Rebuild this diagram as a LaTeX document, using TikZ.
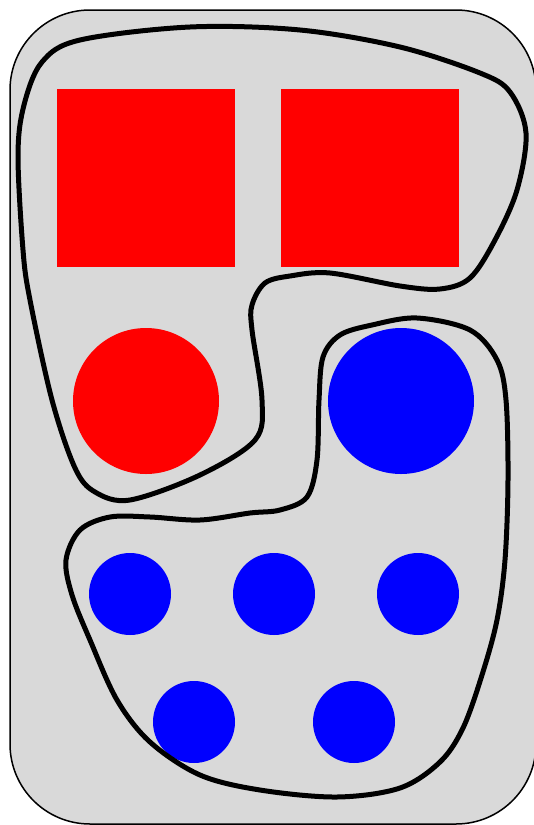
\documentclass[tikz,border=0pt]{standalone}
\begin{document}
\begin{tikzpicture}[x=1pt,y=-1pt]
  \tikzstyle{panel}=[draw=black, line width=1.5pt, fill=gray!30, rounded corners=80pt]
  \tikzstyle{redsq}=[fill=red, inner sep=0pt, minimum size=178pt]
  \tikzstyle{bigdot}=[circle, inner sep=0pt, minimum size=146pt]
  \tikzstyle{smalldot}=[circle, fill=blue, inner sep=0pt, minimum size=82pt]
  \tikzstyle{blob}=[draw=black, line width=5pt]

  \useasboundingbox (0,0) rectangle (534,825);
  \draw[panel] (10,10) rectangle (536,824);

  \node[redsq] (sq1) at (146,178) {};
  \node[redsq] (sq2) at (370,178) {};
  \node[bigdot, fill=red] (rc) at (146,401) {};
  \node[bigdot, fill=blue] (bc) at (401,401) {};

  \node[smalldot] (b1) at (130,594) {};
  \node[smalldot] (b2) at (274,594) {};
  \node[smalldot] (b3) at (418,594) {};
  \node[smalldot] (b4) at (194,722) {};
  \node[smalldot] (b5) at (354,722) {};

  % red group
  \draw[blob] plot[smooth cycle, tension=0.55] coordinates {
    (30,300) (23,250) (18,155) (24,105) (42,62) (80,40) (190,27) (300,30)
    (400,47) (480,73) (510,92) (526,133) (517,190) (495,240) (470,278)
    (440,289) (400,286) (330,273) (290,276) (265,283) (252,305) (252,330)
    (262,400) (255,440) (200,475) (130,500) (95,492) (75,468) (52,400)};

  % blue group
  \draw[blob] plot[smooth cycle, tension=0.55] coordinates {
    (323,357) (319,400) (317,460) (307,497) (280,510) (250,513) (200,520)
    (150,517) (110,517) (80,530) (66,560) (72,595) (90,640) (117,700)
    (150,742) (200,775) (260,790) (337,797) (400,788) (440,762) (463,728)
    (482,675) (497,620) (505,560) (508,480) (506,400) (497,360) (470,330)
    (417,318) (372,325) (340,335)};
\end{tikzpicture}
\end{document}
